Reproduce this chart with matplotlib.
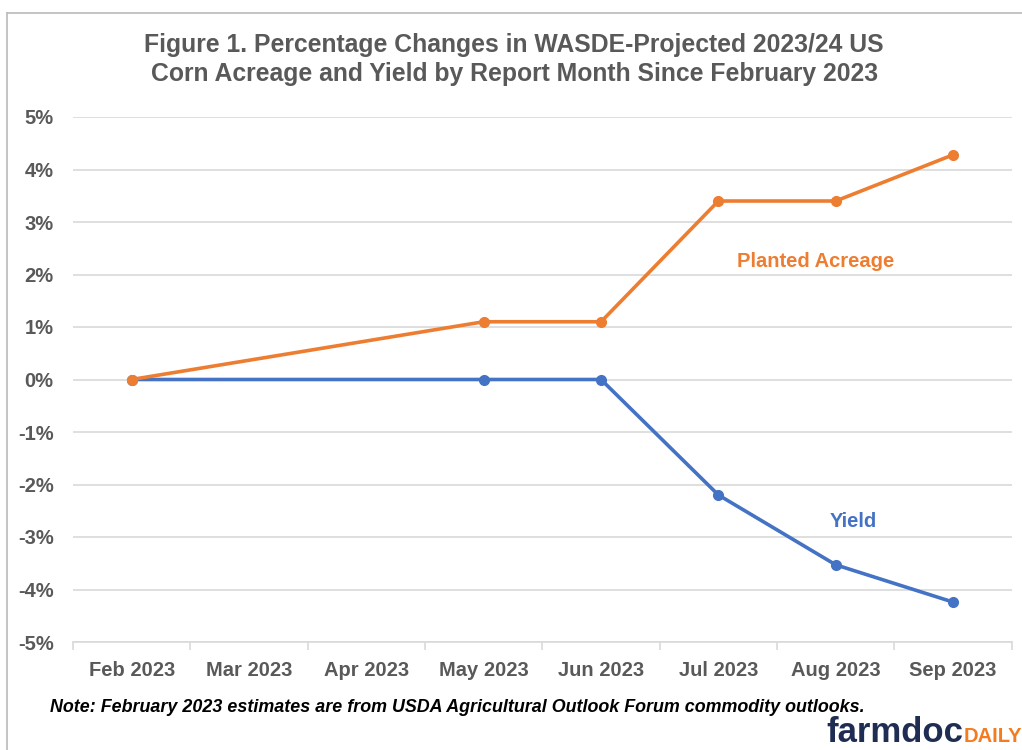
import numpy as np
import matplotlib.pyplot as plt
from matplotlib.lines import Line2D

plt.rcParams['font.family'] = ['Liberation Sans', 'DejaVu Sans']

months = ['Feb 2023', 'Mar 2023', 'Apr 2023', 'May 2023',
          'Jun 2023', 'Jul 2023', 'Aug 2023', 'Sep 2023']
acreage = [0.0, np.nan, np.nan, 1.1, 1.1, 3.4, 3.4, 4.28]
yield_ = [0.0, np.nan, np.nan, 0.0, 0.0, -2.2, -3.53, -4.24]

ORANGE = '#ED7D31'
BLUE = '#4472C4'
GRAY = '#595959'

fig = plt.figure(figsize=(10.22, 7.5), dpi=100)
ax = fig.add_axes([0.0714, 0.144, 0.9186, 0.700])

x = np.arange(len(months))
for vals, col in [(yield_, BLUE), (acreage, ORANGE)]:
    v = np.array(vals, dtype=float)
    m = ~np.isnan(v)
    ax.plot(x[m], v[m], color=col, lw=2.6, marker='o', ms=7,
            solid_capstyle='round', zorder=3)

ax.set_xlim(-0.5, len(months) - 0.5)
ax.set_ylim(-5, 5)
ax.set_yticks(np.arange(-5, 6, 1))
ax.set_yticklabels([f'{t}%' for t in range(-5, 6)])
ax.set_xticks(x)
ax.set_xticklabels(months)
ax.set_xticks(np.arange(-0.5, len(months)), minor=True)
ax.tick_params(axis='x', which='major', length=0, pad=14)
ax.tick_params(axis='x', which='minor', length=6, color='#D9D9D9', width=1.2)
ax.tick_params(axis='y', length=0, pad=14)
for lab in ax.get_xticklabels() + ax.get_yticklabels():
    lab.set_fontsize(14.5)
    lab.set_fontweight('bold')
    lab.set_color(GRAY)

ax.grid(axis='y', color='#D9D9D9', lw=1.2)
ax.set_axisbelow(True)
for s in ['top', 'right', 'left']:
    ax.spines[s].set_visible(False)
ax.spines['bottom'].set_color('#D9D9D9')
ax.spines['bottom'].set_linewidth(1.2)

ax.text(5.83, 2.25, 'Planted Acreage', color=ORANGE, fontsize=14.5,
        fontweight='bold', ha='center', va='center')
ax.text(6.15, -2.7, 'Yield', color=BLUE, fontsize=14.5,
        fontweight='bold', ha='center', va='center')

fig.text(0.503, 0.921, 'Figure 1. Percentage Changes in WASDE-Projected 2023/24 US\n'
         'Corn Acreage and Yield by Report Month Since February 2023',
         ha='center', va='center', fontsize=17.8, fontweight='bold',
         color=GRAY, linespacing=1.25)

fig.text(0.049, 0.057, 'Note: February 2023 estimates are from USDA Agricultural '
         'Outlook Forum commodity outlooks.', fontsize=12.85, fontweight='bold',
         style='italic', color='black', va='center')

# logo
daily = fig.text(1.0, 0.011, 'DAILY', color='#F47B20', fontsize=14.5,
                 fontweight='bold', ha='right', va='baseline')
fig.canvas.draw()
bb = daily.get_window_extent()
fig.text(bb.x0 / fig.bbox.width, 0.011, 'farmdoc', color='#1F2D52',
         fontsize=25, fontweight='bold', ha='right', va='baseline')

# outer frame
fig.add_artist(Line2D([0.0068, 1.0], [0.9827, 0.9827], color='#BFBFBF', lw=1.3))
fig.add_artist(Line2D([0.0068, 0.0068], [0.0, 0.9827], color='#BFBFBF', lw=1.3))

fig.savefig('out.png', dpi=100)
